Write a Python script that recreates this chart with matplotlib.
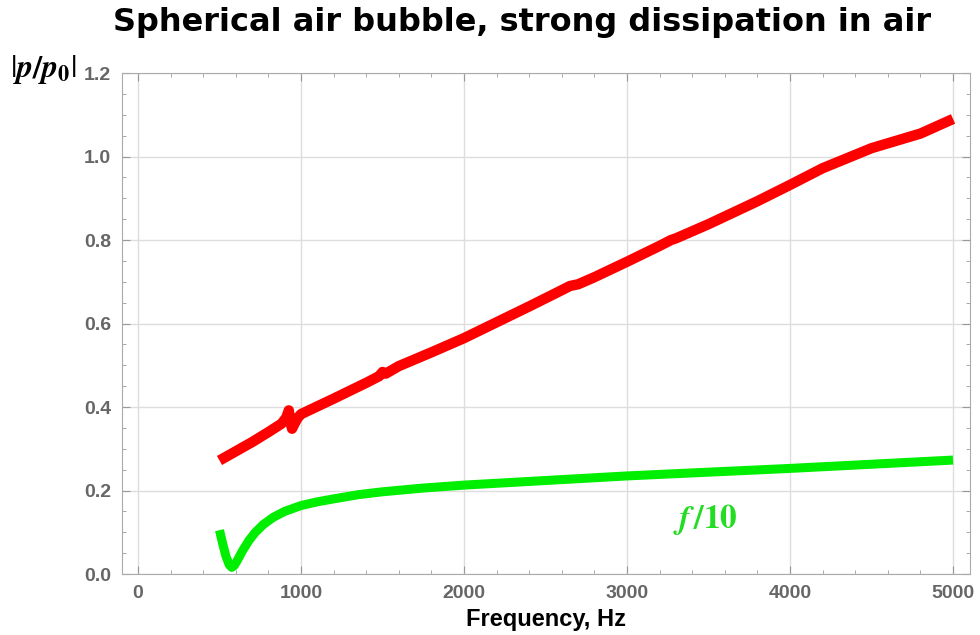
"""
Spherical air bubble: |p/p0| vs frequency, plus f/10 curve
"""
import numpy as np
import matplotlib.pyplot as plt
from matplotlib.ticker import MultipleLocator

plt.rcParams['mathtext.fontset'] = 'stix'

# 数据
freq_red = [500, 600, 700, 800, 880, 910, 925, 935, 945, 960, 980, 1000, 1200, 1400, 1480,
            1500, 1520, 1600, 1800, 2000, 2200, 2400, 2600, 2650, 2700, 2800, 3000,
            3200, 3270, 3300, 3500, 3800, 4000, 4200, 4500, 4800, 5000]
p_red = [0.272, 0.294, 0.316, 0.340, 0.360, 0.375, 0.392, 0.365, 0.348, 0.360, 0.374, 0.383,
         0.420, 0.458, 0.474, 0.484, 0.480, 0.498, 0.531, 0.565, 0.603, 0.641, 0.680,
         0.690, 0.694, 0.711, 0.748, 0.786, 0.800, 0.804, 0.838, 0.893, 0.932, 0.972,
         1.020, 1.055, 1.090]

freq_green = [500, 520, 540, 560, 575, 590, 610, 640, 680, 720, 770, 830, 900, 1000,
              1100, 1200, 1350, 1500, 1750, 2000, 2500, 3000, 3500, 4000, 4500, 5000]
p_green = [0.105, 0.072, 0.042, 0.022, 0.016, 0.020, 0.033, 0.055, 0.080, 0.100, 0.119,
           0.136, 0.150, 0.164, 0.173, 0.180, 0.190, 0.197, 0.206, 0.213, 0.224, 0.235,
           0.244, 0.253, 0.263, 0.273]

xticks = [0, 1000, 2000, 3000, 4000, 5000]
yticks = [0.0, 0.2, 0.4, 0.6, 0.8, 1.0, 1.2]

fig = plt.figure(figsize=(9.8, 6.35), dpi=100)
ax = fig.add_axes([0.1245, 0.096, 0.8653, 0.789])

ax.plot(freq_red, p_red, color='#ff0000', lw=7.5, solid_capstyle='butt',
        solid_joinstyle='round')
ax.plot(freq_green, p_green, color='#00ee00', lw=6.5, solid_capstyle='butt',
        solid_joinstyle='round')

ax.set_xlim(-98, 5104)
ax.set_ylim(0, 1.2)
ax.set_xticks(xticks)
ax.set_yticks(yticks)
ax.set_yticklabels([f'{v:.1f}' for v in yticks])
ax.xaxis.set_minor_locator(MultipleLocator(200))
ax.yaxis.set_minor_locator(MultipleLocator(0.05))

ax.grid(True, which='major', color='#dddddd', lw=1)
ax.set_axisbelow(True)
for s in ax.spines.values():
    s.set_color('#aaaaaa')
ax.tick_params(which='both', direction='in', top=True, right=True, colors='#999999',
               labelcolor='#666666')
ax.tick_params(which='major', length=6, labelsize=14, pad=8)
ax.tick_params(which='minor', length=3)
for lab in ax.get_xticklabels() + ax.get_yticklabels():
    lab.set_fontweight('bold')
    lab.set_family('Liberation Sans')

ax.set_xlabel('Frequency, Hz', fontsize=17, fontweight='bold', labelpad=4,
              family='Liberation Sans')
fig.text(0.533, 0.965, 'Spherical air bubble, strong dissipation in air', fontsize=23,
         fontweight='heavy', ha='center', va='center')
fig.text(0.010, 0.890, r'$|\boldsymbol{p/p}_\mathbf{0}|$', fontsize=23, va='center')
ax.text(3480, 0.13, r'$\boldsymbol{f}\,\mathbf{/10}$', color='#22dd22', fontsize=24,
        ha='center', va='center')

plt.savefig('out.png', dpi=100)
